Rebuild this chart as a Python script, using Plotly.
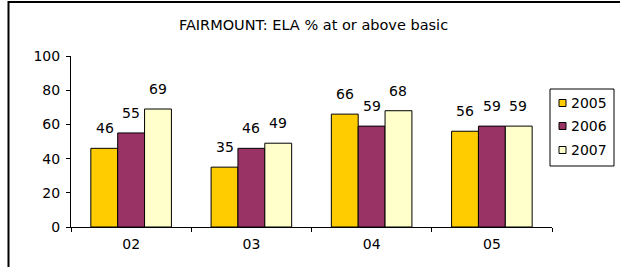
import plotly.graph_objects as go

categories = ["02", "03", "04", "05"]
series_names = ["2005", "2006", "2007"]
values_2005 = [46, 35, 66, 56]
values_2006 = [55, 46, 59, 59]
values_2007 = [69, 49, 68, 59]
colors = ["#FFCC00", "#993366", "#FFFFCC"]
y_ticks = [0, 20, 40, 60, 80, 100]

series = [values_2005, values_2006, values_2007]
FONT = "DejaVu Sans"

PW, PH, L, B = 481, 171, 71, 40
Y0 = 267 - B  # pixel row of y=0


def px_x(px):
    return (px - L) / PW


def px_y(py):
    return (Y0 - py) / PH


fig = go.Figure()
for name, vals, col in zip(series_names, series, colors):
    fig.add_trace(go.Bar(
        x=categories, y=vals, name=name,
        marker=dict(color=col, line=dict(color="black", width=1)),
        cliponaxis=False, showlegend=False,
    ))

# data labels above bars
bar_px = 26.5
annotations = []
for i, vals in enumerate(series):
    for j, v in enumerate(vals):
        annotations.append(dict(
            x=j, y=v, xref="x", yref="y", text=str(v), showarrow=False,
            xanchor="center", yanchor="bottom", xshift=(i - 1) * bar_px, yshift=10,
            font=dict(family=FONT, size=14, color="black"),
        ))

# custom legend (box, swatches, labels)
shapes = [
    dict(type="rect", xref="paper", yref="paper",
         x0=px_x(550), x1=px_x(614), y0=px_y(89), y1=px_y(166),
         line=dict(color="black", width=1), fillcolor="white", layer="above"),
]
legend_rows = [103, 126, 150]
for name, col, ry in zip(series_names, colors, legend_rows):
    shapes.append(dict(type="rect", xref="paper", yref="paper",
                       x0=px_x(559), x1=px_x(566), y0=px_y(ry + 3.5), y1=px_y(ry - 3.5),
                       line=dict(color="black", width=1), fillcolor=col, layer="above"))
    annotations.append(dict(x=px_x(569), y=px_y(ry), xref="paper", yref="paper",
                            text=name, showarrow=False, xanchor="left", yanchor="middle",
                            font=dict(family=FONT, size=14, color="black")))

# outer chart border (left and top edges visible)
shapes += [
    dict(type="line", xref="paper", yref="paper",
         x0=px_x(8.5), x1=px_x(8.5), y0=px_y(1), y1=px_y(300),
         line=dict(color="black", width=2)),
    dict(type="line", xref="paper", yref="paper",
         x0=px_x(8.5), x1=px_x(620), y0=px_y(2), y1=px_y(2),
         line=dict(color="black", width=2)),
]

fig.update_layout(
    width=621, height=267,
    margin=dict(l=L, r=621 - L - PW, t=Y0 - PH, b=B, autoexpand=False),
    paper_bgcolor="white", plot_bgcolor="white",
    barmode="group", bargap=0.33, bargroupgap=0,
    showlegend=False,
    title=dict(text="FAIRMOUNT: ELA % at or above basic", x=313.5 / 621, xanchor="center",
               y=1 - 25 / 267, yanchor="middle",
               font=dict(family=FONT, size=14.5, color="black")),
    annotations=annotations,
    shapes=shapes,
    xaxis=dict(type="category", range=[-0.5, 3.5], showline=True, linecolor="black", linewidth=1,
               ticks="outside", tickson="boundaries", ticklen=4, tickcolor="black",
               ticklabelstandoff=4,
               tickfont=dict(family=FONT, size=14, color="black"),
               showgrid=False, zeroline=False),
    yaxis=dict(range=[0, 100], tickvals=y_ticks, showline=True, linecolor="black",
               linewidth=1, ticks="outside", ticklen=4, tickcolor="black",
               ticklabelstandoff=3,
               tickfont=dict(family=FONT, size=14, color="black"),
               showgrid=False, zeroline=False),
)

fig.write_html("out.html", config={"displayModeBar": False},
               post_script="document.body.style.margin='0';")
